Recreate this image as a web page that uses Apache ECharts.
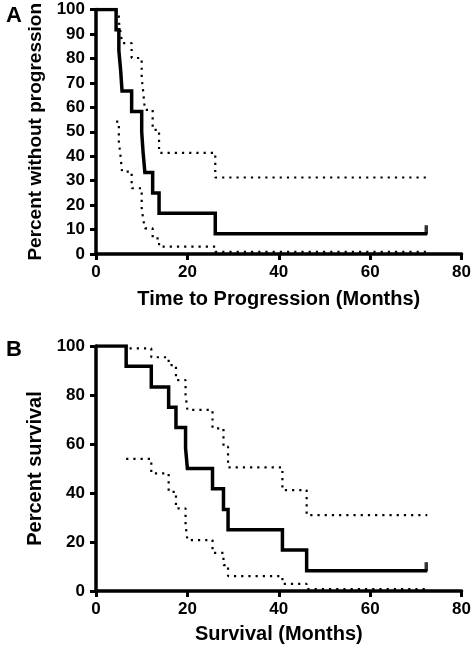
<!DOCTYPE html>
<html>
<head>
<meta charset="utf-8">
<script src="https://cdn.jsdelivr.net/npm/echarts@6/dist/echarts.min.js"></script>
<style>
html,body{margin:0;padding:0;background:#fff;}
#chart{width:474px;height:649px;}
</style>
</head>
<body>
<div id="chart"></div>
<script>
// Panel A: Time to progression
const timesA = [0, 4.4, 5.0, 5.4, 5.7, 7.8, 10.0, 10.3, 10.7, 12.4, 13.8, 26.1, 72.5];
const survA  = [100, 91.7, 83.3, 75.0, 66.7, 58.3, 50.0, 41.7, 33.3, 25.0, 16.7, 8.3, 8.3];
const upperA = [100, 98.5, 95.0, 90.5, 86.3, 80.2, 72.0, 67.0, 59.0, 50.8, 41.4, 31.3, 31.3];
const lowerTimesA = [4.4, 5.0, 5.4, 5.7, 7.8, 10.0, 10.3, 10.7, 12.4, 13.8, 26.1, 72.5];
const lowerA = [54.2, 46.0, 39.5, 33.7, 26.9, 19.0, 14.5, 10.5, 6.4, 3.0, 0.9, 0.9];
const censorA = [[72.5, 8.3]];

// Panel B: Survival
const timesB = [0, 6.6, 12.1, 15.9, 17.5, 19.6, 20.0, 25.5, 27.9, 28.9, 40.8, 46.1, 72.5];
const survB  = [100, 91.7, 83.3, 75.0, 66.7, 58.3, 50.0, 41.7, 33.3, 25.0, 16.7, 8.3, 8.3];
const upperB = [100, 99.0, 95.4, 92.2, 86.1, 80.0, 73.9, 66.4, 58.9, 50.5, 41.2, 31.0, 31.0];
const lowerTimesB = [6.6, 12.1, 15.9, 17.5, 19.6, 20.0, 25.5, 27.9, 28.9, 40.8, 46.1, 72.5];
const lowerB = [53.9, 48.0, 40.5, 33.7, 27.0, 20.8, 15.6, 10.6, 6.1, 2.9, 0.8, 0.8];
const censorB = [[72.5, 8.3]];

const xTicks = [0, 20, 40, 60, 80];
const yTicksA = [0, 10, 20, 30, 40, 50, 60, 70, 80, 90, 100];
const yTicksB = [0, 20, 40, 60, 80, 100];

const zip = (xs, ys) => xs.map((x, i) => [x, ys[i]]);
const FONT = '"Liberation Sans", Arial, sans-serif';

function xAxisCfg(gridIndex, name, gap) {
  return {
    type: 'value', gridIndex, min: xTicks[0], max: xTicks[xTicks.length - 1], interval: 20,
    name, nameLocation: 'middle', nameGap: gap,
    nameTextStyle: { fontFamily: FONT, fontSize: 20, fontWeight: 'bold', color: '#000' },
    axisLine: { show: true, lineStyle: { color: '#000', width: 3.5 } },
    axisTick: { show: true, length: 6, lineStyle: { color: '#000', width: 3 } },
    axisLabel: { fontFamily: FONT, fontSize: 17, fontWeight: 'bold', color: '#000', margin: 10 },
    splitLine: { show: false }
  };
}
function yAxisCfg(gridIndex, name, ticks, nameSize, gap) {
  return {
    type: 'value', gridIndex, min: ticks[0], max: ticks[ticks.length - 1], interval: ticks[1] - ticks[0],
    name, nameLocation: 'middle', nameGap: gap,
    nameTextStyle: { fontFamily: FONT, fontSize: nameSize, fontWeight: 'bold', color: '#000' },
    axisLine: { show: true, lineStyle: { color: '#000', width: 3.5 } },
    axisTick: { show: true, length: 6, lineStyle: { color: '#000', width: 3 } },
    axisLabel: { fontFamily: FONT, fontSize: 17, fontWeight: 'bold', color: '#000', margin: 11 },
    splitLine: { show: false }
  };
}
const solid = { color: '#000', width: 3.5, cap: 'butt', join: 'miter' };
const dotted = { color: '#000', width: 2.2, type: [2.2, 5], cap: 'butt' };

function stepSeries(idx, data, style) {
  return { type: 'line', xAxisIndex: idx, yAxisIndex: idx, step: 'end', data, symbol: 'none',
           lineStyle: style, silent: true, animation: false, z: style === solid ? 3 : 2 };
}
function censorSeries(idx, data) {
  return { type: 'scatter', xAxisIndex: idx, yAxisIndex: idx, data, symbol: 'rect',
           symbolSize: [3.5, 9], symbolOffset: [-1, -4], itemStyle: { color: '#000' }, silent: true, animation: false, z: 4 };
}

const chart = echarts.init(document.getElementById('chart'), null, { renderer: 'canvas' });
chart.setOption({
  backgroundColor: '#fff',
  animation: false,
  title: [
    { text: 'A', left: 1, top: 0, textStyle: { fontFamily: FONT, fontSize: 22, fontWeight: 'bold', color: '#000' } },
    { text: 'B', left: 1, top: 334, textStyle: { fontFamily: FONT, fontSize: 22, fontWeight: 'bold', color: '#000' } }
  ],
  grid: [
    { left: 96, right: 10, top: 9, height: 245 },
    { left: 96, right: 10, top: 346, height: 245 }
  ],
  xAxis: [
    xAxisCfg(0, 'Time to Progression (Months)', 35),
    xAxisCfg(1, 'Survival (Months)', 33)
  ],
  yAxis: [
    yAxisCfg(0, 'Percent without progression', yTicksA, 19, 44),
    yAxisCfg(1, 'Percent survival', yTicksB, 20, 44)
  ],
  series: [
    stepSeries(0, zip(timesA, upperA), dotted),
    stepSeries(0, zip(lowerTimesA, lowerA), dotted),
    stepSeries(0, zip(timesA, survA), solid),
    censorSeries(0, censorA),
    stepSeries(1, zip(timesB, upperB), dotted),
    stepSeries(1, zip(lowerTimesB, lowerB), dotted),
    stepSeries(1, zip(timesB, survB), solid),
    censorSeries(1, censorB)
  ]
});
</script>
</body>
</html>
